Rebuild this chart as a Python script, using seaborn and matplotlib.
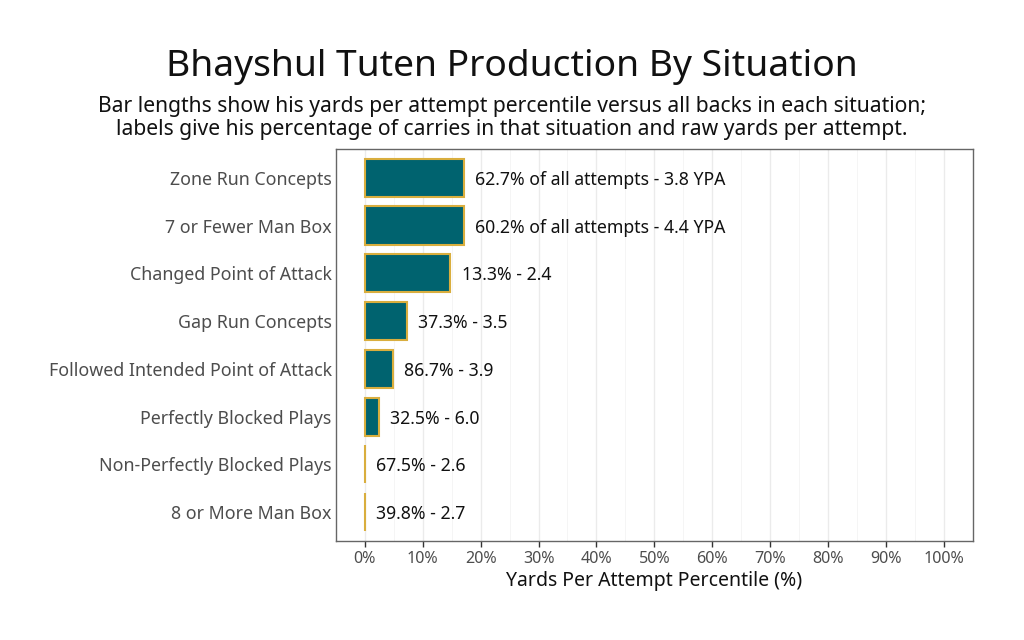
import numpy as np
import pandas as pd
import matplotlib
matplotlib.use('Agg')
import matplotlib.pyplot as plt
import seaborn as sns
from matplotlib.ticker import MultipleLocator, FuncFormatter

# data
situations = ['Zone Run Concepts', '7 or Fewer Man Box', 'Changed Point of Attack',
              'Gap Run Concepts', 'Followed Intended Point of Attack',
              'Perfectly Blocked Plays', 'Non-Perfectly Blocked Plays', '8 or More Man Box']
percentile = [17.1, 17.1, 14.7, 7.2, 4.8, 2.4, 0.0, 0.0]
share_of_carries = [62.7, 60.2, 13.3, 37.3, 86.7, 32.5, 67.5, 39.8]
yards_per_attempt = [3.8, 4.4, 2.4, 3.5, 3.9, 6.0, 2.6, 2.7]

labels = []
for i, (s, y) in enumerate(zip(share_of_carries, yards_per_attempt)):
    if i < 2:
        labels.append(f'{s:.1f}% of all attempts - {y:.1f} YPA')
    else:
        labels.append(f'{s:.1f}% - {y:.1f}')

df = pd.DataFrame({'situation': situations, 'pct': percentile, 'label': labels})

sns.set_theme(style='white')
plt.rcParams['font.family'] = ['Noto Sans', 'DejaVu Sans']

fig = plt.figure(figsize=(10.24, 6.4), dpi=100)
ax = fig.add_axes([0.328, 0.155, 0.622, 0.612])

sns.barplot(data=df, x='pct', y='situation', order=situations, orient='h',
            color='#00636F', saturation=1, width=0.8,
            edgecolor='#D9AE3E', linewidth=1.5, ax=ax)

for i, row in df.iterrows():
    ax.text(row['pct'] + 2.0, i, row['label'], va='center_baseline', ha='left',
            fontsize=12.7, color='#111111')

ax.set_xlim(-5, 105)
ax.set_ylim(7.6, -0.6)
ax.xaxis.set_major_locator(MultipleLocator(10))
ax.xaxis.set_minor_locator(MultipleLocator(5))
ax.xaxis.set_major_formatter(FuncFormatter(lambda v, p: f'{v:.0f}%'))
ax.grid(axis='x', which='major', color='#EBEBEB', linewidth=1.0)
ax.grid(axis='x', which='minor', color='#F4F4F4', linewidth=0.6)
ax.grid(axis='y', visible=False)
ax.set_axisbelow(True)

ax.tick_params(axis='x', which='major', length=4, width=1, color='#333333',
               labelsize=11.6, labelcolor='#4D4D4D', pad=3, bottom=True)
ax.tick_params(axis='x', which='minor', length=0)
ax.tick_params(axis='y', length=0, labelsize=12.8, labelcolor='#4D4D4D', pad=3)

for sp in ax.spines.values():
    sp.set_color('#666666')
    sp.set_linewidth(1.0)

ax.set_ylabel('')
ax.set_xlabel('Yards Per Attempt Percentile (%)', fontsize=14, color='#111111', labelpad=3)

fig.text(0.5, 0.896, 'Bhayshul Tuten Production By Situation', ha='center', va='center',
         fontsize=26.8, color='#111111')
fig.text(0.5, 0.816,
         'Bar lengths show his yards per attempt percentile versus all backs in each situation;\n'
         'labels give his percentage of carries in that situation and raw yards per attempt.',
         ha='center', va='center', fontsize=15.2, color='#111111', linespacing=1.12)

fig.savefig('out.png', dpi=100)
